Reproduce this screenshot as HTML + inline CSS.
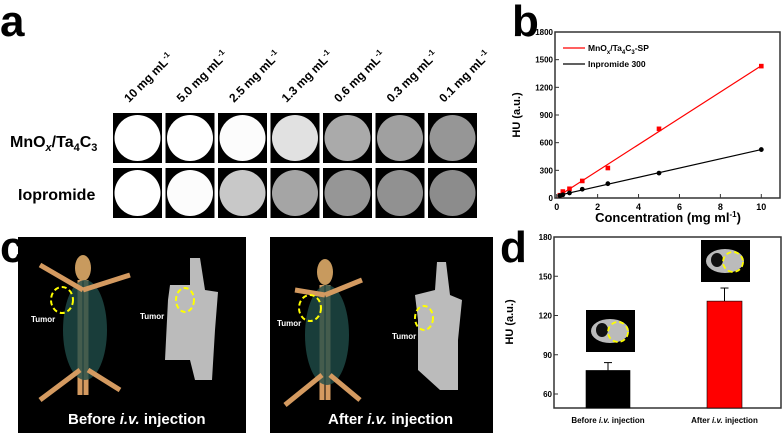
<!DOCTYPE html>
<html><head><meta charset="utf-8"><style>
body{margin:0;background:#fff;font-family:"Liberation Sans",sans-serif}
svg{display:block}
text{font-family:"Liberation Sans",sans-serif;font-weight:bold}
</style></head><body>
<svg id="fig" width="784" height="433" viewBox="0 0 784 433">
<text x="0" y="36" font-size="44">a</text>
<text x="512" y="36" font-size="44">b</text>
<text x="0" y="262" font-size="44">c</text>
<text x="500" y="262" font-size="44">d</text>
<g id="panelA"></g>
<text x="10" y="147" font-size="16">MnO<tspan font-size="11" dy="4" font-style="italic">x</tspan><tspan dy="-4">/Ta</tspan><tspan font-size="11" dy="4">4</tspan><tspan dy="-4">C</tspan><tspan font-size="11" dy="4">3</tspan></text>
<text x="18" y="200" font-size="16">Iopromide</text>
<g id="panelB"></g>
<g>
<rect x="18" y="237" width="228" height="196" fill="#000"/>
<ellipse cx="83" cy="268" rx="8" ry="13" fill="#c89a5e"/>
<path d="M80 280 L80 395 M86 280 L86 395" stroke="#d49a60" stroke-width="5"/>
<ellipse cx="85" cy="330" rx="22" ry="50" fill="#1f4c48" opacity="0.8"/>
<path d="M83 290 L40 265 M83 290 L130 275 M80 370 L40 400 M88 370 L120 390" stroke="#d49a60" stroke-width="5" fill="none"/>
<ellipse cx="62" cy="300" rx="11" ry="13" fill="none" stroke="#ff0" stroke-width="2" stroke-dasharray="5,3"/>
<text x="31" y="322" font-size="8" fill="#fff">Tumor</text>
<path d="M190 258 L200 258 L205 290 L218 292 L215 330 L212 380 L195 380 L190 360 L165 360 L168 300 L170 285 L190 285 Z" fill="#bbb"/>
<ellipse cx="185" cy="300" rx="9" ry="12" fill="none" stroke="#ff0" stroke-width="2" stroke-dasharray="5,3"/>
<text x="140" y="319" font-size="8" fill="#fff">Tumor</text>
<text x="68" y="424" font-size="15" fill="#fff">Before <tspan font-style="italic">i.v.</tspan> injection</text>
</g>
<g>
<rect x="270" y="237" width="223" height="196" fill="#000"/>
<ellipse cx="325" cy="272" rx="8" ry="13" fill="#c89a5e"/>
<path d="M322 285 L322 400 M328 285 L328 400" stroke="#d49a60" stroke-width="5"/>
<ellipse cx="327" cy="335" rx="22" ry="50" fill="#1f4c48" opacity="0.8"/>
<path d="M325 295 L295 290 M325 295 L362 280 M322 375 L285 405 M330 375 L360 400" stroke="#d49a60" stroke-width="5" fill="none"/>
<ellipse cx="310" cy="308" rx="11" ry="13" fill="none" stroke="#ff0" stroke-width="2" stroke-dasharray="5,3"/>
<text x="277" y="326" font-size="8" fill="#fff">Tumor</text>
<path d="M437 262 L446 262 L450 295 L462 300 L458 340 L458 390 L440 390 L418 370 L418 320 L415 295 L435 290 Z" fill="#bbb"/>
<ellipse cx="424" cy="318" rx="9" ry="12" fill="none" stroke="#ff0" stroke-width="2" stroke-dasharray="5,3"/>
<text x="392" y="339" font-size="8" fill="#fff">Tumor</text>
<text x="328" y="424" font-size="15" fill="#fff">After <tspan font-style="italic">i.v.</tspan> injection</text>
</g>
<g id="panelD"></g>
</svg>
<script>
const NS='http://www.w3.org/2000/svg';
function mk(p,t,a){const e=document.createElementNS(NS,t);for(const k in a)e.setAttribute(k,a[k]);p.appendChild(e);return e;}
// Panel a
const concLabels=['10 mg mL','5.0 mg mL','2.5 mg mL','1.3 mg mL','0.6 mg mL','0.3 mg mL','0.1 mg mL'];
const mnoxBright=[255,255,252,225,170,160,150];
const ioproBright=[255,252,200,165,150,145,140];
const A=document.getElementById('panelA');
concLabels.forEach((l,i)=>{
  const x=113+i*52.5;
  const t=mk(A,'text',{transform:`translate(${x+16},${103}) rotate(-45)`,'font-size':'12'});
  
  
  t.textContent=l;const s=mk(t,'tspan',{'font-size':'8',dy:'-5'});s.textContent='-1';
  [[113,mnoxBright[i]],[168,ioproBright[i]]].forEach(([y,b])=>{
    const r=mk(A,'rect',{x:x,y:y,width:49,height:50,fill:'#000'});
    
    
    const c=mk(A,'circle',{cx:x+24.5,cy:y+25,r:23,fill:`rgb(${b},${b},${b})`});
    
    
  });
});
// Panel b
const bx=[0.156,0.3,0.625,1.25,2.5,5,10];
const redY=[30,70,100,185,325,750,1430];
const blackY=[25,35,55,95,155,270,525];
const yTicksB=[0,300,600,900,1200,1500,1800];
const xTicksB=[0,2,4,6,8,10];
const B=document.getElementById('panelB');
const L=555,R=780,T=32,Bo=198;
const sx=v=>556.7+v*(761.3-556.7)/10, sy=v=>198-v*(198-32)/1800;
const fr=mk(B,'rect',{x:L,y:T,width:R-L,height:Bo-T,fill:'none',stroke:'#333','stroke-width':1.5});

yTicksB.forEach(v=>{mk(B,'line',{x1:L,x2:L+4,y1:sy(v),y2:sy(v),stroke:'#333'});
 const t=mk(B,'text',{x:L-2,y:sy(v)+3,'font-size':'8','text-anchor':'end'});t.textContent=v;
 });
xTicksB.forEach(v=>{mk(B,'line',{x1:sx(v),x2:sx(v),y1:Bo,y2:Bo-4,stroke:'#333'});
 const t=mk(B,'text',{x:sx(v),y:Bo+12,'font-size':'9','text-anchor':'middle'});t.textContent=v;
 });
const xt=mk(B,'text',{x:668,y:222,'font-size':'13','text-anchor':'middle'});xt.textContent='Concentration (mg ml';

mk(xt,'tspan',{'font-size':'8',dy:'-5'}).textContent='-1';mk(xt,'tspan',{dy:'5'}).textContent=')';
const yt=mk(B,'text',{transform:'translate(520,115) rotate(-90)','font-size':'11','text-anchor':'middle'});yt.textContent='HU (a.u.)';

function fit(ys){const n=bx.length,mx=bx.reduce((a,b)=>a+b)/n,my=ys.reduce((a,b)=>a+b)/n;let num=0,den=0;bx.forEach((x,i)=>{num+=(x-mx)*(ys[i]-my);den+=(x-mx)**2});const m=num/den;return[m,my-m*mx];}
[[redY,'#f00','rect'],[blackY,'#000','circle']].forEach(([ys,col,sh])=>{
 const [m,b]=fit(ys);
 const ln=mk(B,'line',{x1:sx(bx[0]),y1:sy(m*bx[0]+b),x2:sx(10),y2:sy(m*10+b),stroke:col,'stroke-width':1.2});
 
 ys.forEach((v,i)=>{const e=sh=='rect'?mk(B,'rect',{x:sx(bx[i])-2.3,y:sy(v)-2.3,width:4.6,height:4.6,fill:col}):mk(B,'circle',{cx:sx(bx[i]),cy:sy(v),r:2.4,fill:col});
  });
});
mk(B,'line',{x1:563,x2:585,y1:48,y2:48,stroke:'#f00','stroke-width':1.2});
mk(B,'line',{x1:563,x2:585,y1:64,y2:64,stroke:'#000','stroke-width':1.2});
const l1=mk(B,'text',{x:588,y:51,'font-size':'8.5'});l1.textContent='MnO';

mk(l1,'tspan',{'font-size':'6',dy:'3'}).textContent='x';mk(l1,'tspan',{dy:'-3'}).textContent='/Ta';
mk(l1,'tspan',{'font-size':'6',dy:'3'}).textContent='4';mk(l1,'tspan',{dy:'-3'}).textContent='C';
mk(l1,'tspan',{'font-size':'6',dy:'3'}).textContent='3';mk(l1,'tspan',{dy:'-3'}).textContent='-SP';
const l2=mk(B,'text',{x:588,y:67,'font-size':'8.5'});l2.textContent='Inpromide 300';

// Panel d
const groups=['Before','After'];
const dVals=[78,131];
const dErr=[6,10];
const yTicksD=[60,90,120,150,180];
const D=document.getElementById('panelD');
const dL=554,dR=781,dT=237,dB=408;
const dy=v=>394-(v-60)*(394-237)/120;
const df=mk(D,'rect',{x:dL,y:dT,width:dR-dL,height:dB-dT,fill:'none',stroke:'#333','stroke-width':1.5});

yTicksD.forEach(v=>{mk(D,'line',{x1:dL,x2:dL+4,y1:dy(v),y2:dy(v),stroke:'#333'});
 const t=mk(D,'text',{x:dL-2,y:dy(v)+3,'font-size':'8','text-anchor':'end'});t.textContent=v;
 });
const dyt=mk(D,'text',{transform:'translate(513,322) rotate(-90)','font-size':'11','text-anchor':'middle'});dyt.textContent='HU (a.u.)';

const bxs=[586,707],cols=['#000','#f00'];
groups.forEach((g,i)=>{
 const r=mk(D,'rect',{x:bxs[i],y:dy(dVals[i]),width:i?35:44,height:dB-dy(dVals[i]),fill:cols[i],stroke:'#000','stroke-width':0.6});
 
 const cx=bxs[i]+(i?17.5:22);
 mk(D,'line',{x1:cx,x2:cx,y1:dy(dVals[i]+dErr[i]),y2:dy(dVals[i]),stroke:'#000'});
 mk(D,'line',{x1:cx-4,x2:cx+4,y1:dy(dVals[i]+dErr[i]),y2:dy(dVals[i]+dErr[i]),stroke:'#000'});
 const t=mk(D,'text',{x:cx,y:423,'font-size':'8','text-anchor':'middle'});t.textContent=g+' ';
 
 mk(t,'tspan',{'font-style':'italic'}).textContent='i.v.';mk(t,'tspan',{}).textContent=' injection';
});
[[586,310],[701,240]].forEach(([x,y])=>{
 const g=mk(D,'g',{});
 mk(g,'rect',{x:x,y:y,width:49,height:42,fill:'#000'});
 mk(g,'ellipse',{cx:x+24,cy:y+21,rx:19,ry:12,fill:'#bbb'});
 mk(g,'ellipse',{cx:x+16,cy:y+20,rx:6,ry:7,fill:'#111'});
 mk(g,'circle',{cx:x+32,cy:y+22,r:10,fill:'none',stroke:'#ff0','stroke-width':1.8,'stroke-dasharray':'5,3'});
});
</script>
</body></html>
